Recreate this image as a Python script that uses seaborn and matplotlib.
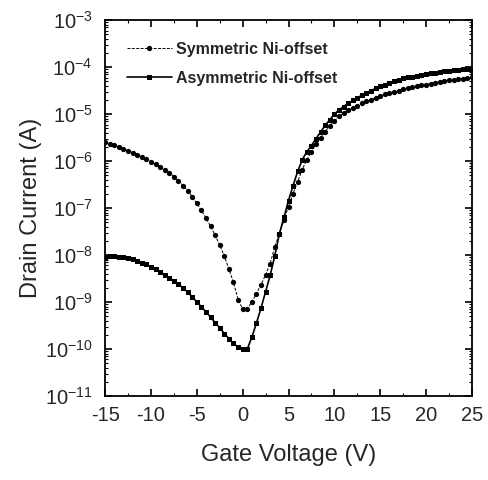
import numpy as np
import pandas as pd
import matplotlib
matplotlib.use("Agg")
import matplotlib.pyplot as plt
import matplotlib.ticker as mticker
import seaborn as sns

gate_voltage = [
    -15, -14.5, -14, -13.5, -13, -12.5, -12, -11.5, -11, -10.5, -10, -9.5, -9, -8.5, -8, -7.5,
    -7, -6.5, -6, -5.5, -5, -4.5, -4, -3.5, -3, -2.5, -2, -1.5, -1, -0.5, 0, 0.5, 1, 1.5, 2,
    2.5, 3, 3.5, 4, 4.5, 5, 5.5, 6, 6.5, 7, 7.5, 8, 8.5, 9, 9.5, 10, 10.5, 11, 11.5, 12, 12.5,
    13, 13.5, 14, 14.5, 15, 15.5, 16, 16.5, 17, 17.5, 18, 18.5, 19, 19.5, 20, 20.5, 21, 21.5,
    22, 22.5, 23, 23.5, 24, 24.5, 25,
]

# log10 of drain current (A)
sym_log10_current = [
    -5.60, -5.63, -5.66, -5.70, -5.74, -5.78, -5.82, -5.86, -5.91, -5.96, -6.01, -6.07, -6.13,
    -6.19, -6.25, -6.33, -6.42, -6.52, -6.63, -6.76, -6.90, -7.05, -7.21, -7.39, -7.58, -7.79,
    -8.02, -8.30, -8.58, -8.95, -9.15, -9.14, -9.00, -8.82, -8.63, -8.42, -8.18, -7.82, -7.55,
    -7.25, -6.97, -6.69, -6.44, -6.18, -5.97, -5.80, -5.64, -5.50, -5.37, -5.25, -5.14, -5.05,
    -4.98, -4.92, -4.87, -4.82, -4.77, -4.73, -4.69, -4.65, -4.62, -4.58, -4.55, -4.52, -4.50,
    -4.47, -4.45, -4.43, -4.41, -4.39, -4.37, -4.35, -4.33, -4.31, -4.30, -4.28, -4.27, -4.26,
    -4.25, -4.23, -4.22,
]

asym_log10_current = [
    -8.04, -8.03, -8.03, -8.04, -8.05, -8.07, -8.09, -8.12, -8.16, -8.20, -8.25, -8.30, -8.36,
    -8.42, -8.48, -8.55, -8.62, -8.70, -8.79, -8.89, -9.00, -9.10, -9.21, -9.32, -9.44, -9.55,
    -9.67, -9.78, -9.88, -9.96, -10.00, -10.00, -9.75, -9.45, -9.13, -8.78, -8.43, -8.02, -7.55,
    -7.20, -6.84, -6.52, -6.22, -5.97, -5.80, -5.67, -5.52, -5.38, -5.24, -5.12, -5.00, -4.91,
    -4.84, -4.77, -4.71, -4.65, -4.60, -4.55, -4.50, -4.45, -4.41, -4.37, -4.33, -4.30, -4.27,
    -4.24, -4.22, -4.20, -4.18, -4.16, -4.14, -4.13, -4.12, -4.10, -4.09, -4.08, -4.07, -4.06,
    -4.05, -4.05, -4.04,
]

series_labels = ["Symmetric Ni-offset", "Asymmetric Ni-offset"]

sns.set_style("ticks")
plt.rcParams["font.family"] = ["Liberation Sans", "DejaVu Sans"]
plt.rcParams["mathtext.fontset"] = "custom"
plt.rcParams["mathtext.rm"] = "Liberation Sans"
plt.rcParams["mathtext.it"] = "Liberation Sans:italic"
plt.rcParams["mathtext.bf"] = "Liberation Sans:bold"
plt.rcParams["axes.unicode_minus"] = False

df_sym = pd.DataFrame({"V": gate_voltage, "I": 10 ** np.array(sym_log10_current)})
df_asym = pd.DataFrame({"V": gate_voltage, "I": 10 ** np.array(asym_log10_current)})

fig = plt.figure(figsize=(4.89, 4.80), dpi=100)
ax = fig.add_axes([0.215, 0.175, 0.75, 0.783])

sns.lineplot(data=df_sym, x="V", y="I", ax=ax, color="black", linewidth=0.7,
             linestyle=(0, (3, 1.5)), marker="o", markersize=3.8, markeredgewidth=0,
             label=series_labels[0])
sns.lineplot(data=df_asym, x="V", y="I", ax=ax, color="black", linewidth=1.2,
             linestyle="-", marker="s", markersize=3.6, markeredgewidth=0,
             label=series_labels[1])

ax.set_yscale("log")
ax.set_xlim(-15, 25)
ax.set_ylim(1e-11, 1e-3)
ax.xaxis.set_major_locator(mticker.MultipleLocator(5))
ax.xaxis.set_minor_locator(mticker.MultipleLocator(2.5))
ax.yaxis.set_major_locator(mticker.LogLocator(base=10, numticks=20))
ax.yaxis.set_minor_locator(mticker.LogLocator(base=10, subs=np.arange(2, 10), numticks=20))
ax.yaxis.set_minor_formatter(mticker.NullFormatter())

ax.tick_params(which="both", direction="in", top=True, right=True, color="black")
ax.tick_params(which="major", length=5, width=1.2, labelsize=14.5)
ax.tick_params(axis="x", which="major", pad=7)
ax.tick_params(axis="y", which="major", pad=9)
ax.tick_params(which="minor", length=2.5, width=0.8)
for s in ax.spines.values():
    s.set_linewidth(1.3)
    s.set_color("black")

ax.set_xlabel("Gate Voltage (V)", fontsize=17, labelpad=14)
ax.set_ylabel("Drain Current (A)", fontsize=17, labelpad=2)

leg = ax.legend(loc="upper left", frameon=False, handlelength=2.8, fontsize=11.5,
                bbox_to_anchor=(0.02, 0.98), borderaxespad=0.5, labelspacing=0.85,
                handletextpad=0.3)
for t in leg.get_texts():
    t.set_fontweight("bold")

fig.savefig("out.png", dpi=100)
